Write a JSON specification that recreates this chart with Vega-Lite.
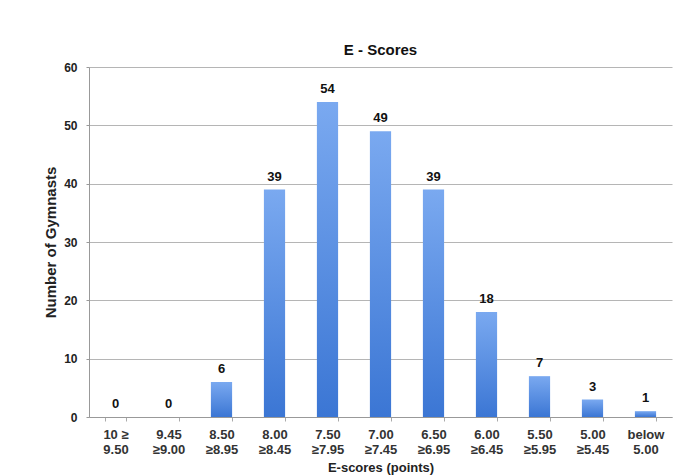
{
  "$schema": "https://vega.github.io/schema/vega-lite/v6.json",
  "width": 583,
  "height": 350,
  "autosize": {"type": "none"},
  "padding": {"left": 89, "top": 67, "right": 13, "bottom": 58},
  "background": "white",
  "title": {
    "text": "E - Scores",
    "font": "Liberation Sans",
    "fontSize": 15,
    "fontWeight": "bold",
    "color": "#111",
    "offset": 3
  },
  "data": {
    "values": [
      {"range": "10 ≥|9.50", "gymnasts": 0},
      {"range": "9.45|≥9.00", "gymnasts": 0},
      {"range": "8.50|≥8.95", "gymnasts": 6},
      {"range": "8.00|≥8.45", "gymnasts": 39},
      {"range": "7.50|≥7.95", "gymnasts": 54},
      {"range": "7.00|≥7.45", "gymnasts": 49},
      {"range": "6.50|≥6.95", "gymnasts": 39},
      {"range": "6.00|≥6.45", "gymnasts": 18},
      {"range": "5.50|≥5.95", "gymnasts": 7},
      {"range": "5.00|≥5.45", "gymnasts": 3},
      {"range": "below|5.00", "gymnasts": 1}
    ]
  },
  "encoding": {
    "x": {
      "field": "range",
      "type": "nominal",
      "sort": null,
      "title": "E-scores (points)",
      "scale": {"paddingInner": 0.6, "paddingOuter": 0.3},
      "axis": {
        "labelAngle": 0,
        "labelExpr": "split(datum.label, '|')",
        "labelLineHeight": 15,
        "labelFont": "Liberation Sans",
        "labelFontSize": 13,
        "labelFontWeight": "bold",
        "labelColor": "#333",
        "labelPadding": 7,
        "tickBand": "extent",
        "tickSize": 4,
        "tickColor": "#aaa",
        "domainColor": "#999",
        "titleFont": "Liberation Sans",
        "titleFontSize": 13,
        "titleFontWeight": "bold",
        "titleColor": "#222",
        "titlePadding": 5
      }
    },
    "y": {
      "field": "gymnasts",
      "type": "quantitative",
      "title": "Number of Gymnasts",
      "scale": {"domain": [0, 60]},
      "axis": {
        "values": [0, 10, 20, 30, 40, 50, 60],
        "labelFont": "Liberation Sans",
        "labelFontSize": 12,
        "labelFontWeight": "bold",
        "labelColor": "#222",
        "labelPadding": 9,
        "tickSize": 3,
        "tickColor": "#999",
        "domainColor": "#999",
        "gridColor": "#b5b5b5",
        "gridWidth": 1.2,
        "titleFont": "Liberation Sans",
        "titleFontSize": 15,
        "titleFontWeight": "bold",
        "titleColor": "#222",
        "titlePadding": 5
      }
    }
  },
  "layer": [
    {
      "mark": {
        "type": "bar",
        "color": {
          "gradient": "linear",
          "x1": 0, "y1": 0, "x2": 0, "y2": 1,
          "stops": [
            {"offset": 0, "color": "#7aa9f0"},
            {"offset": 1, "color": "#3b76d4"}
          ]
        }
      }
    },
    {
      "mark": {
        "type": "text",
        "baseline": "bottom",
        "dy": -6,
        "font": "Liberation Sans",
        "fontSize": 13,
        "fontWeight": "bold",
        "color": "#111"
      },
      "encoding": {"text": {"field": "gymnasts", "type": "quantitative"}}
    }
  ],
  "config": {"view": {"stroke": null}}
}
